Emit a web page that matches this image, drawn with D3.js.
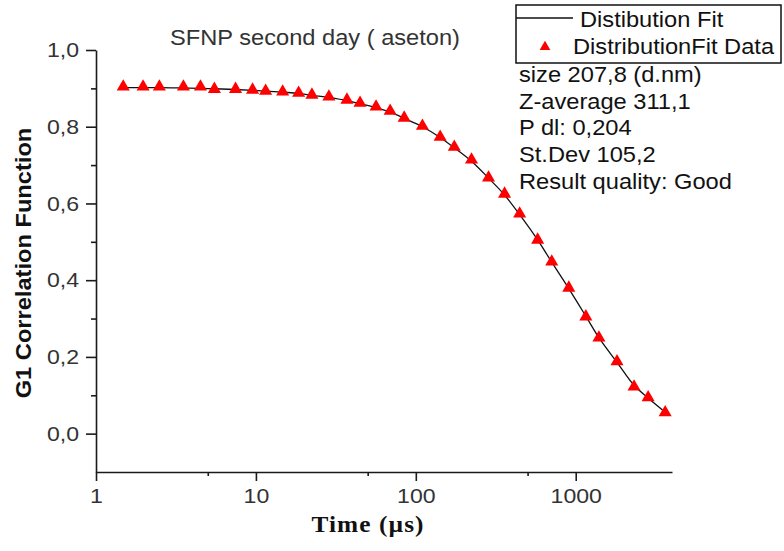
<!DOCTYPE html>
<html>
<head>
<meta charset="utf-8">
<script src="https://cdn.jsdelivr.net/npm/d3@7"></script>
<style>
body{margin:0;background:#fff;}
</style>
</head>
<body>
<div id="chart"></div>
<script>
// correlation data
var times = [1.48,1.97,2.49,3.52,4.50,5.50,7.46,9.53,11.5,14.7,18.5,22.4,28.6,37.1,44.8,56.4,69.1,84.6,110,142,174,223,285,359,446,578,708,905,1157,1397,1812,2316,2836,3626];
var g1Data = [0.904,0.904,0.904,0.904,0.904,0.898,0.898,0.896,0.893,0.891,0.888,0.883,0.878,0.870,0.862,0.852,0.841,0.823,0.802,0.773,0.747,0.714,0.667,0.625,0.573,0.505,0.448,0.380,0.305,0.250,0.188,0.122,0.094,0.055];
var g1Fit = [0.902,0.902,0.902,0.901,0.900,0.899,0.897,0.895,0.893,0.890,0.887,0.882,0.876,0.868,0.860,0.850,0.838,0.822,0.800,0.772,0.745,0.710,0.666,0.622,0.571,0.505,0.447,0.378,0.306,0.250,0.186,0.126,0.093,0.056];

var xMajor = [1,10,100,1000];
var xMinor = [5,50,500];
var yMajor = [0,0.2,0.4,0.6,0.8,1.0];
var yMinor = [0.1,0.3,0.5,0.7,0.9];

var legendLabels = ["Distibution Fit","DistributionFit Data"];
var statLines = ["size 207,8 (d.nm)","Z-average 311,1","P dl: 0,204","St.Dev 105,2","Result quality: Good"];

var width=784, height=551;
var sx = 1.1; // text in the picture runs a bit wide
var sans = '"Liberation Sans",Arial,sans-serif';
var serif = '"Liberation Serif","Times New Roman",serif';

var svg = d3.select("#chart").append("svg")
    .attr("width",width).attr("height",height);

var x = d3.scaleLog().domain([1,4000]).range([96,672]);
var y = d3.scaleLinear().domain([-0.1,1.0]).range([472,50]);

var comma = d3.formatLocale({decimal:",",thousands:".",grouping:[3],currency:["",""]}).format(".1f");

function addText(str, px, py, size, anchor, weight, family){
    return svg.append("text")
        .attr("transform","translate("+px+","+py+") scale("+sx+",1)")
        .attr("text-anchor",anchor||"start")
        .style("font-size",size+"px")
        .style("font-weight",weight||"normal")
        .style("font-family",family||sans)
        .attr("fill","#111")
        .text(str);
}

// axes
var yAxis = svg.append("g").attr("transform","translate(96,0)")
    .call(d3.axisLeft(y).tickValues(yMajor).tickFormat(comma).tickSize(10).tickSizeOuter(0));
svg.append("g").attr("transform","translate(96,0)")
    .call(d3.axisLeft(y).tickValues(yMinor).tickFormat("").tickSize(5).tickSizeOuter(0))
    .select(".domain").remove();

var xAxis = svg.append("g").attr("transform","translate(0,472)")
    .call(d3.axisBottom(x).tickValues(xMajor).tickFormat(d3.format("d")).tickSize(9).tickSizeOuter(0));
svg.append("g").attr("transform","translate(0,472)")
    .call(d3.axisBottom(x).tickValues(xMinor).tickFormat("").tickSize(4).tickSizeOuter(0))
    .select(".domain").remove();

svg.selectAll(".domain, .tick line").attr("stroke","#1a1a1a").attr("stroke-width",1.6);
yAxis.selectAll("text").style("font-size","21px").attr("fill","#333")
    .attr("x",-17/sx).attr("transform","scale("+sx+",1)");
xAxis.selectAll("text").style("font-size","21px").attr("fill","#333")
    .attr("y",16).attr("transform","scale("+sx+",1)");
svg.selectAll(".tick text").style("font-family",sans);

// fit line
var line = d3.line()
    .x(function(d,i){ return x(times[i]); })
    .y(function(d){ return y(d); })
    .curve(d3.curveMonotoneX);
svg.append("path").datum(g1Fit)
    .attr("d",line)
    .attr("fill","none")
    .attr("stroke","#111")
    .attr("stroke-width",1.3);

// data triangles
var tri = d3.symbol().type(d3.symbolTriangle).size(74);
svg.selectAll(".pt").data(g1Data).enter().append("path")
    .attr("class","pt")
    .attr("d",tri)
    .attr("transform",function(d,i){ return "translate("+x(times[i])+","+y(d)+")"; })
    .attr("fill","#ff0000");

// title
addText("SFNP second day ( aseton)",315,45,21.5,"middle").attr("fill","#333");

// axis titles
svg.append("text")
    .attr("transform","translate(31,263) rotate(-90) scale("+sx+",1)")
    .attr("text-anchor","middle")
    .style("font-size","21.5px")
    .style("font-weight","bold")
    .style("font-family",sans)
    .attr("fill","#111")
    .text("G1 Correlation Function");
addText("Time (µs)",368,532,23,"middle","bold",serif)
    .attr("letter-spacing","1px");

// legend
svg.append("rect").attr("x",516).attr("y",5).attr("width",265).attr("height",58)
    .attr("fill","none").attr("stroke","#111").attr("stroke-width",1.5);
svg.append("line").attr("x1",516).attr("x2",573).attr("y1",18).attr("y2",18)
    .attr("stroke","#111").attr("stroke-width",1.3);
addText(legendLabels[0],580,27,21.5);
svg.append("path").attr("d",d3.symbol().type(d3.symbolTriangle).size(50))
    .attr("transform","translate(545,47)").attr("fill","#ff0000");
addText(legendLabels[1],573,54,21.5);

statLines.forEach(function(s,i){
    addText(s,519,82+26.7*i,21.5);
});
</script>
</body>
</html>
